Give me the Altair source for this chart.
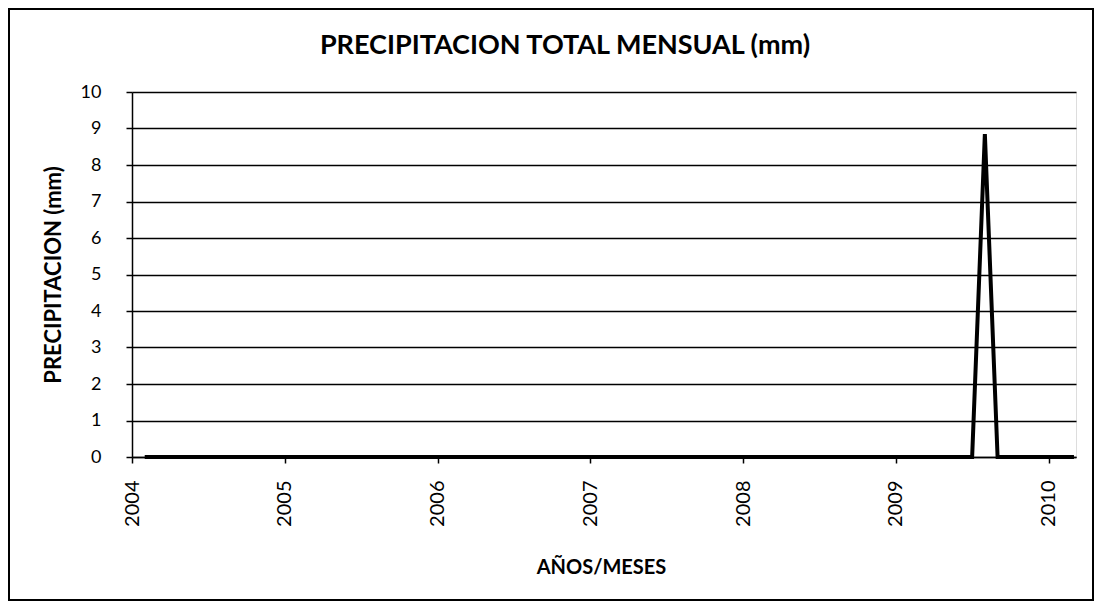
import altair as alt
import pandas as pd

# Monthly series, Feb 2004 .. Mar 2010
years = [2004] * 11 + [2005] * 12 + [2006] * 12 + [2007] * 12 + [2008] * 12 + [2009] * 12 + [2010] * 3
months = list(range(2, 13)) + list(range(1, 13)) * 5 + [1, 2, 3]
precip = [
    0, 0, 0, 0, 0, 0, 0, 0, 0, 0, 0,            # 2004 Feb-Dec
    0, 0, 0, 0, 0, 0, 0, 0, 0, 0, 0, 0,         # 2005
    0, 0, 0, 0, 0, 0, 0, 0, 0, 0, 0, 0,         # 2006
    0, 0, 0, 0, 0, 0, 0, 0, 0, 0, 0, 0,         # 2007
    0, 0, 0, 0, 0, 0, 0, 0, 0, 0, 0, 0,         # 2008
    0, 0, 0, 0, 0, 0, 0, 8.85, 0, 0, 0, 0,      # 2009
    0, 0, 0,                                    # 2010 Jan-Mar
]
year_ticks = [2004, 2005, 2006, 2007, 2008, 2009, 2010]
y_ticks = [0, 1, 2, 3, 4, 5, 6, 7, 8, 9, 10]
title_text = ["PRECIPITACION TOTAL MENSUAL (mm)"]

df = pd.DataFrame({
    "t": [y + (m - 1) / 12 for y, m in zip(years, months)],
    "p": precip,
})

FONT = "Lato"

line = alt.Chart(df).mark_line(color="black", strokeWidth=4).encode(
    x=alt.X(
        "t:Q",
        scale=alt.Scale(domain=[2004, 2010.18], nice=False, zero=False),
        axis=alt.Axis(
            values=year_ticks, format="d", labelAngle=270, labelAlign="right",
            labelBaseline="middle", labelFontSize=20, labelPadding=17,
            tickSize=6, tickColor="black", tickWidth=1.5,
            domainColor="black", domainWidth=1.5, grid=False,
            title="AÑOS/MESES", titleFontSize=20, titleFont=FONT, titleFontWeight="bold",
            titleX=469, titleY=110, titleBaseline="middle", titleAlign="center",
            labelColor="black", titleColor="black", labelFont=FONT,
        ),
    ),
    y=alt.Y(
        "p:Q",
        scale=alt.Scale(domain=[0, 10], nice=False),
        axis=alt.Axis(
            values=y_ticks, format="d", labelFontSize=18, labelPadding=25,
            tickSize=6, tickColor="black", tickWidth=1.5,
            domainColor="black", domainWidth=1.5,
            grid=True, gridColor="black", gridWidth=1.6, gridOpacity=1,
            title="PRECIPITACION (mm)", titleFontSize=22, titleFont=FONT, titleFontWeight="bold",
            titleAngle=270, titleX=-79, titleY=182.5, titleAlign="center", titleBaseline="middle",
            labelColor="black", titleColor="black", labelFont=FONT,
        ),
    ),
)

title = alt.Chart(pd.DataFrame({"title": title_text})).mark_text(
    font=FONT, fontSize=27, fontWeight="bold", color="black", align="center", baseline="middle"
).encode(text="title:N", x=alt.value(433), y=alt.value(-46))

border = alt.Chart(df).mark_rect(fill=None, stroke="black", strokeWidth=2).encode(
    x=alt.value(-123), x2=alt.value(961), y=alt.value(-83), y2=alt.value(508)
)

chart = alt.layer(line, title, border).properties(
    width=944,
    height=365,
    autosize=alt.AutoSizeParams(type="none"),
    padding={"left": 124, "top": 84, "right": 18, "bottom": 145},
).configure_view(stroke="black", strokeWidth=1.5).configure(background="white")

chart.save("out.html", embed_options={"renderer": "svg", "actions": False})
